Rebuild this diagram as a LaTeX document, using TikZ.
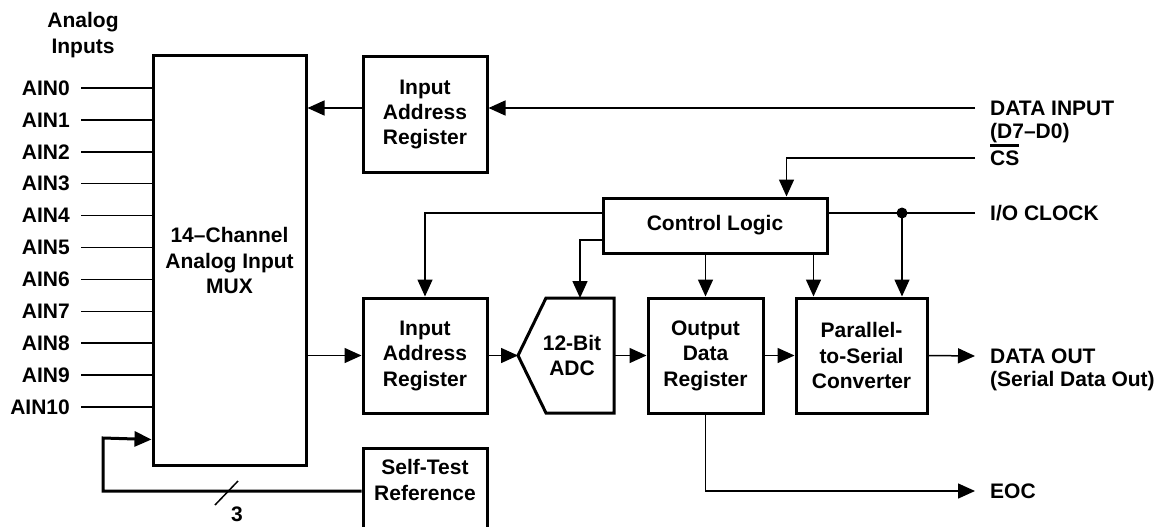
\documentclass[tikz,border=0pt]{standalone}
\usepackage{fontspec}
\setmainfont{Liberation Sans}
\usetikzlibrary{arrows.meta}
\newcommand{\ovbar}[1]{\smash{\vbox{\hrule height 2.5pt\kern 4pt\hbox{#1}}}\vphantom{#1}}

\begin{document}
\begin{tikzpicture}[x=1pt,y=-1pt,>={Triangle[length=17pt,width=15pt]},
        every node/.style={font=\fontsize{21}{25.5}\selectfont\bfseries,align=center},
        frame/.style={line width=3pt},
        box/.style={draw,frame,inner sep=0pt},
        wire/.style={line width=1.5pt},
        bus/.style={line width=3pt},
        inlbl/.style={anchor=east,inner xsep=11pt,inner ysep=0pt},
        outlbl/.style={anchor=west,inner xsep=15pt,inner ysep=0pt}]
		\useasboundingbox (0,0) rectangle (1164,527);
		\node (title) at (83,35) {Analog\\Inputs};
		\node [box,minimum width=153pt,minimum height=409pt] (mux) at (229.5,260.5) {14--Channel\\Analog Input\\MUX};
		\node [box,minimum width=124pt,minimum height=115pt] (iar1) at (425,114.5) {Input\\Address\\Register};
		\node [box,minimum width=124pt,minimum height=115pt] (iar2) at (425,355.5) {Input\\Address\\Register};
		\node [box,minimum width=224pt,minimum height=55pt] (cl) at (715,225.5) {Control Logic};
		\node (adc) at (572,355.5) {12-Bit\\ADC};
		\draw [frame] (546,298) -- (614,298) -- (614,413) -- (546,413) -- (518,355.5) -- cycle;
		\coordinate (adcin) at (518,355.5);
		\coordinate (adcout) at (614,355.5);
		\coordinate (adctop) at (580,298);
		\node [box,minimum width=115pt,minimum height=115pt] (odr) at (705.5,355.5) {Output\\Data\\Register};
		\node [box,minimum width=131pt,minimum height=115pt] (ps) at (861.5,355.5) {Parallel-\\to-Serial\\Converter};
		\node [box,minimum width=124pt,anchor=north,inner ysep=11pt,text depth=70pt] (st) at (425,447) {Self-Test\\Reference};
		\node [outlbl] (din) at (975,108) {DATA INPUT};
		\node [outlbl] (dinb) at (975,133) {(D7--D0)};
		\node [outlbl] (cs) at (975,158) {\ovbar{CS}};
		\node [outlbl] (clk) at (975,213) {I/O CLOCK};
		\node [outlbl] (dout) at (975,356) {DATA OUT};
		\node [outlbl] (doutb) at (975,381) {(Serial Data Out)};
		\node [outlbl] (eoc) at (975,491) {EOC};
		\foreach \i in {0,...,10} {
			\node [inlbl] (ain\i) at (81,88+31.9*\i) {AIN\i};
			\draw [wire] (ain\i.east) -- (ain\i.east -| mux.west);
		}
		\draw [wire,->] (iar1.west |- din) -- (mux.east |- din);
		\draw [wire,->] (din.west) -- (iar1.east |- din);
		\draw [wire,->] (cs.west) -| ([xshift=-42pt]cl.north east);
		\draw [wire] (clk.west) -- (cl.east |- clk);
		\coordinate (tap) at (902,213);
		\fill (tap) circle (5.5pt);
		\draw [wire,->] (tap) -- (tap |- ps.north);
		\draw [wire,->] (cl.west |- clk) -| (iar2.north);
		\draw [wire,->] ([yshift=-14.5pt]cl.west) -| (adctop);
		\draw [wire,->] (cl.south -| odr.north) -- (odr.north);
		\coordinate (psctl) at ([xshift=19pt]ps.north west);
		\draw [wire,->] (cl.south -| psctl) -- (psctl);
		\draw [wire,->] (mux.east |- iar2) -- (iar2.west);
		\draw [wire,->] (iar2.east) -- (adcin);
		\draw [wire,->] (adcout) -- (odr.west);
		\draw [wire,->] (odr.east) -- (ps.west);
		\draw [wire,->] (ps.east) -- (dout.west);
		\draw [wire,->] (odr.south) |- (eoc.west);
		\coordinate (busturn) at (103,438);
		\draw [bus,->] ([yshift=-44pt]st.north west) -| (busturn) -- ([yshift=27pt]mux.south west);
		\draw [wire] (215,505) -- (238,481);
		\node (buswidth) at (237,514) {3};
\end{tikzpicture}
\end{document}
